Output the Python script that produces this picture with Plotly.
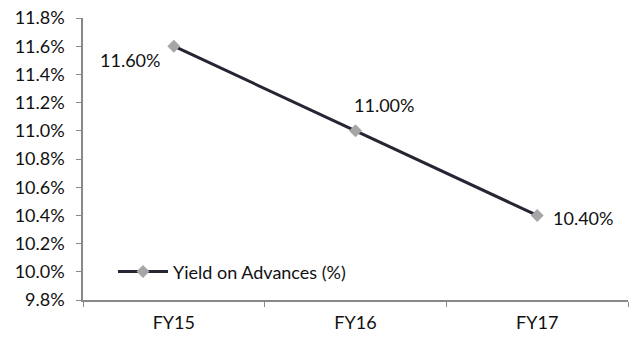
import plotly.graph_objects as go

categories = ["FY15", "FY16", "FY17"]
yield_values = [11.60, 11.00, 10.40]
label_texts = ["11.60%", "11.00%", "10.40%"]
y_ticks = [9.8, 10.0, 10.2, 10.4, 10.6, 10.8, 11.0, 11.2, 11.4, 11.6, 11.8]
series_name = "Yield on Advances (%)"

font_family = "Lato, 'Open Sans', sans-serif"

fig = go.Figure()
fig.add_trace(go.Scatter(
    x=categories, y=yield_values, mode="lines+markers",
    name=series_name,
    line=dict(color="#262633", width=3),
    marker=dict(symbol="diamond", size=10, color="#A6A6A6"),
))

label_style = [
    dict(xanchor="right", xshift=-12, yshift=-14),
    dict(xanchor="left", xshift=-4, yshift=26),
    dict(xanchor="left", xshift=14, yshift=-3),
]
for cat, val, txt, st in zip(categories, yield_values, label_texts, label_style):
    fig.add_annotation(x=cat, y=val, text=txt, showarrow=False,
                       yanchor="middle", font=dict(size=18, color="#111111"),
                       **st)

fig.update_layout(
    width=633, height=338,
    margin=dict(l=83, r=5, t=18, b=38),
    paper_bgcolor="white", plot_bgcolor="white",
    font=dict(family=font_family, size=17, color="#111111"),
    showlegend=True,
    legend=dict(x=0.055, y=0.1, xanchor="left", yanchor="middle",
                itemwidth=50,
                bgcolor="rgba(0,0,0,0)", font=dict(size=18)),
    xaxis=dict(type="category", range=[-0.5, 2.5], showgrid=False,
               showline=True, linecolor="#888888", linewidth=1.5,
               ticks="outside", tickson="boundaries", ticklen=5,
               tickcolor="#888888", zeroline=False,
               ticklabelstandoff=6, tickfont=dict(size=18)),
    yaxis=dict(range=[9.8, 11.8], tickvals=y_ticks,
               ticktext=[f"{v:.1f}%" for v in y_ticks],
               showgrid=False, showline=True, linecolor="#888888",
               linewidth=1.5, ticks="outside", ticklen=5,
               tickcolor="#888888", zeroline=False,
               ticklabelstandoff=8, tickfont=dict(size=18)),
)

fig.write_html("out.html")
